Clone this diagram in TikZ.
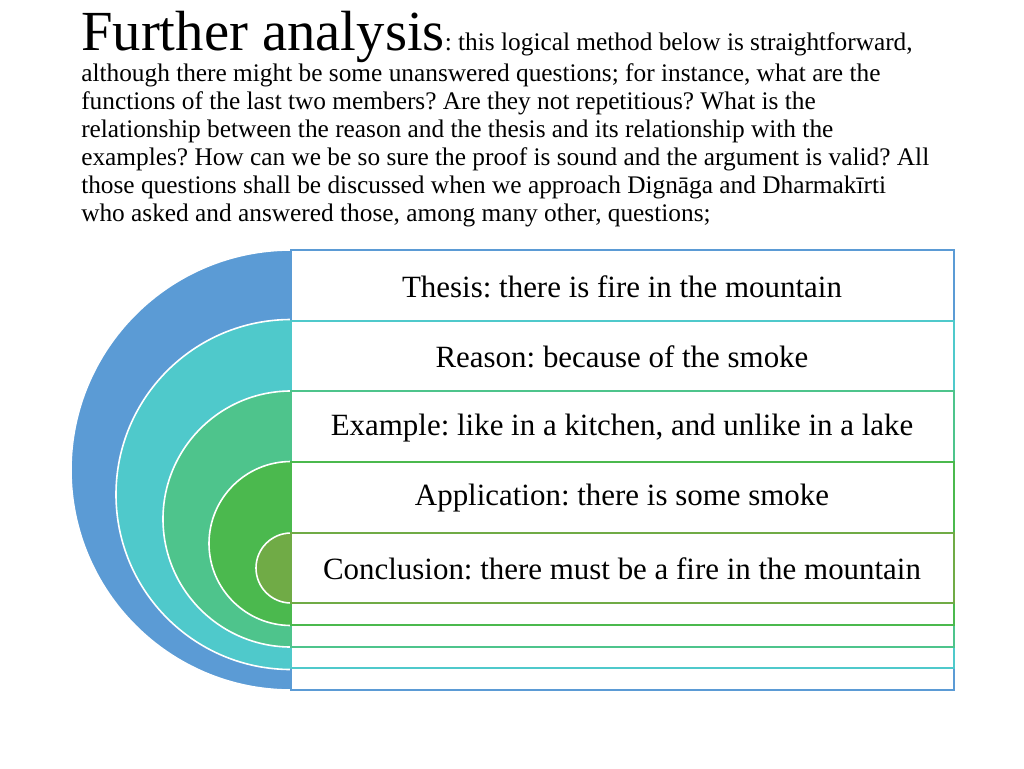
\documentclass[tikz,border=0pt]{standalone}
\usepackage{fontspec}
\setmainfont{Liberation Serif}
\frenchspacing
\definecolor{cA}{HTML}{5B9BD5}
\definecolor{cB}{HTML}{4FC9CB}
\definecolor{cC}{HTML}{4EC48C}
\definecolor{cD}{HTML}{4BB94E}
\definecolor{cE}{HTML}{70AB46}
\begin{document}
\begin{tikzpicture}[x=0.75pt,y=-0.75pt,
  disc/.style={draw=white,line width=1.2pt},
  rowbox/.style={fill=white,line width=0.9pt},
  lbl/.style={font=\fontsize{23.2}{26}\selectfont,anchor=center}]
\frenchspacing
\useasboundingbox (0,0) rectangle (1024,768);
% half discs
\fill[cA,disc] (291,470) circle[radius=220];
\fill[cB,disc] (291,494.5) circle[radius=175];
\fill[cC,disc] (291,519) circle[radius=128];
\fill[cD,disc] (291,543.5) circle[radius=82];
\fill[cE,disc] (291,568) circle[radius=35];
% boxes
\draw[rowbox,draw=cA] (291,250) rectangle (954,690);
\draw[rowbox,draw=cB] (291,321) rectangle (954,668);
\draw[rowbox,draw=cC] (291,391) rectangle (954,647);
\draw[rowbox,draw=cD] (291,462) rectangle (954,625);
\draw[rowbox,draw=cE] (291,533) rectangle (954,603);
\node[lbl] (t1) at (622,287) {Thesis: there is fire in the mountain};
\node[lbl] (t2) at (622,357) {Reason: because of the smoke};
\node[lbl] (t3) at (622,428) {Example: like in a kitchen, and unlike in a lake};
\node[lbl] (t4) at (622,498) {Application: there is some smoke};
\node[lbl] (t5) at (622,569) {Conclusion: there must be a fire in the mountain};
% heading text
\node[anchor=north west,inner sep=0pt,align=left,font=\fontsize{19}{21}\selectfont] (txt) at (81,11)
{{\fontsize{42.5}{43}\selectfont Further analysis}: this logical method below is straightforward,\\
although there might be some unanswered questions; for instance, what are the\\
functions of the last two members? Are they not repetitious? What is the\\
relationship between the reason and the thesis and its relationship with the\\
examples? How can we be so sure the proof is sound and the argument is valid? All\\
those questions shall be discussed when we approach Dignāga and Dharmakīrti\\
who asked and answered those, among many other, questions;};
\end{tikzpicture}
\end{document}
